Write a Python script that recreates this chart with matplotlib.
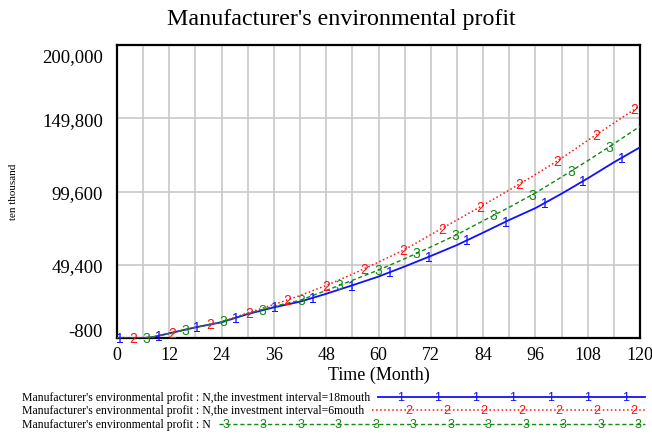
import numpy as np
import matplotlib
matplotlib.use("Agg")
import matplotlib.pyplot as plt
from matplotlib.lines import Line2D
from matplotlib.transforms import ScaledTranslation

# values (ten thousand)
months = [0, 6, 8, 12, 18, 24, 30, 36, 42, 48, 54, 60, 66, 72, 78, 84, 90, 96, 102, 108, 114, 120]
profit_18 = [-800, -800, -300, 2400, 6500, 10000, 15600, 20200, 24100, 29500, 35300, 41300,
             48200, 55400, 62900, 71400, 80100, 88200, 98100, 108600, 119600, 129900]
profit_6 = [-800, -800, -300, 2400, 6600, 10200, 16400, 22100, 28300, 35200, 42900, 51200,
            59800, 70000, 80100, 90200, 100600, 111200, 122400, 134600, 146500, 158400]
profit_n = [-800, -800, -300, 2400, 6500, 10100, 15900, 20900, 25000, 31800, 38700, 45800,
            53500, 61600, 70100, 79500, 88800, 98600, 109500, 120700, 132300, 144300]

y_ticks = [-800, 49400, 99600, 149800, 200000]
x_ticks = list(range(0, 121, 12))

series = [
    ("Manufacturer's environmental profit : N,the investment interval=18mouth",
     profit_18, "#1010ff", "-", 1.3, "1", 0.7),
    ("Manufacturer's environmental profit : N,the investment interval=6mouth",
     profit_6, "#ff1010", ":", 1.1, "2", 3.7),
    ("Manufacturer's environmental profit : N",
     profit_n, "#108a10", (0, (3, 2)), 1.0, "3", 6.8),
]

serif = "Liberation Serif"
sans = "Liberation Sans"

fig = plt.figure(figsize=(6.52, 4.35), dpi=100)
W, H = 652, 435
ax = fig.add_axes([117 / W, 1 - 339 / H, (640 - 117) / W, (339 - 46) / H])

for label, vals, color, ls, lw, mk, off in series:
    ax.plot(months, vals, color=color, linestyle=ls, linewidth=lw, zorder=3)
    mt = np.arange(off, 120, 8.85)
    mv = np.interp(mt, months, vals)
    for t, v in zip(mt, mv):
        ax.text(t, v, mk, color=color, family=sans, fontsize=10,
                ha="center", va="center", zorder=4)

ax.set_xlim(0, 120)
ax.set_ylim(-800, 200000)
ax.set_xticks(x_ticks)
ax.set_xticks(range(6, 120, 12), minor=True)
ax.set_yticks(y_ticks)
ax.set_yticklabels([f"{v:,}" for v in y_ticks])
ax.grid(True, which="both", color="#c8c8c8", linewidth=1.2)
ax.set_axisbelow(True)
ax.tick_params(which="both", length=0, labelsize=13, pad=6)
ax.tick_params(axis="y", labelsize=13.5, pad=10)
for lab in ax.get_xticklabels() + ax.get_yticklabels():
    lab.set_family(serif)
for sp in ax.spines.values():
    sp.set_linewidth(1.6)
    sp.set_color("black")

# keep the end labels inside the axis span
ylabs = ax.get_yticklabels()
ylabs[0].set_transform(ylabs[0].get_transform() + ScaledTranslation(0, 8 / 100, fig.dpi_scale_trans))
ylabs[-1].set_transform(ylabs[-1].get_transform() + ScaledTranslation(0, -10 / 100, fig.dpi_scale_trans))

ax.set_xlabel("Time (Month)", family=serif, fontsize=13, labelpad=2)
fig.text(14 / W, 1 - 192 / H, "ten thousand", family=serif, fontsize=8,
         rotation=90, ha="center", va="center")
fig.text(341 / W, 1 - 19 / H, "Manufacturer's environmental profit", family=serif,
         fontsize=17.3, ha="center", va="center")

# legend drawn by hand, Vensim style
rows_y = [398, 411, 425]
fig.canvas.draw()
renderer = fig.canvas.get_renderer()
for (label, vals, color, ls, lw, mk, off), ypx in zip(series, rows_y):
    yf = 1 - ypx / H
    txt = fig.text(22 / W, yf, label, family=serif, fontsize=8.5, ha="left", va="center")
    x0 = txt.get_window_extent(renderer).x1 + 8
    x1 = 645
    fig.add_artist(Line2D([x0 / W, x1 / W], [yf, yf], color=color, linestyle=ls,
                          linewidth=lw, transform=fig.transFigure))
    start = x0 + {"1": 22, "2": 37, "3": 7}[mk]
    for xm in np.arange(start, x1 + 1, 37.5):
        fig.text(xm / W, yf, mk, color=color, family=sans, fontsize=9,
                 ha="center", va="center")

fig.savefig("out.png", dpi=100)
